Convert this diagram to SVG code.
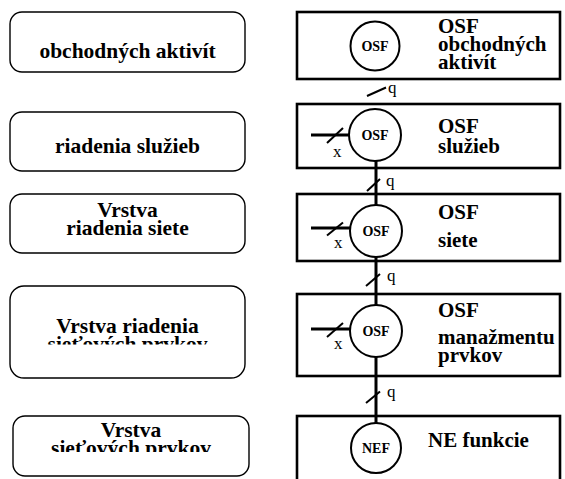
<svg xmlns="http://www.w3.org/2000/svg" width="565" height="479" viewBox="0 0 565 479">
<style>
.lb{fill:#fff;stroke:#000;stroke-width:1.4}
.rb{fill:#fff;stroke:#000;stroke-width:2.6}
.c{fill:#fff;stroke:#000;stroke-width:2}
.t{font-family:'Liberation Serif','Times New Roman','DejaVu Serif',serif;font-weight:700;font-size:21.5px;fill:#000}
.r{font-size:21px}
.ct{font-family:'Liberation Serif','Times New Roman','DejaVu Serif',serif;font-weight:700;font-size:14px;fill:#000;text-anchor:middle}
.s{font-family:'Liberation Serif','Times New Roman','DejaVu Serif',serif;font-size:17px;fill:#000}
.m{text-anchor:middle}
.ln{stroke:#000;stroke-width:3;fill:none}
.sl{stroke:#000;stroke-width:2;fill:none}
</style>
<defs>
<clipPath id="cp4"><rect x="0" y="280" width="250" height="64.5"/></clipPath>
<clipPath id="cp5"><rect x="0" y="410" width="255" height="42"/></clipPath>
</defs>
<g id="layer1">
<rect class="lb" x="10" y="12" width="235" height="60" rx="12"/>
<text class="t m" x="127.5" y="58">obchodných aktivít</text>
</g>
<g id="layer2">
<rect class="lb" x="10" y="112" width="235" height="59" rx="12"/>
<text class="t m" x="127.5" y="153">riadenia služieb</text>
</g>
<g id="layer3">
<rect class="lb" x="10" y="194" width="235" height="59" rx="12"/>
<text class="t m" x="127.5" y="217">Vrstva</text>
<text class="t m" x="127.5" y="235">riadenia siete</text>
</g>
<g id="layer4">
<rect class="lb" x="10" y="286" width="235" height="92" rx="14"/>
<text class="t m" x="127.5" y="333">Vrstva riadenia</text>
<text class="t m" x="127.5" y="351" clip-path="url(#cp4)">sieťových prvkov</text>
</g>
<g id="layer5">
<rect class="lb" x="13" y="416" width="236" height="60" rx="12"/>
<text class="t m" x="131" y="437">Vrstva</text>
<text class="t m" x="131" y="455" clip-path="url(#cp5)">sieťových prvkov</text>
</g>
<g id="osf1">
<rect class="rb" x="297" y="12" width="263" height="67"/>
<circle class="c" cx="375" cy="46" r="24.5"/>
<text class="ct" x="375" y="51">OSF</text>
<text class="t r" x="438" y="33">OSF</text>
<text class="t r" x="438" y="51">obchodných</text>
<text class="t r" x="438" y="69">aktivít</text>
</g>
<g id="osf2">
<rect class="rb" x="297" y="104" width="263" height="64"/>
<circle class="c" cx="375" cy="135" r="26"/>
<text class="ct" x="375" y="140">OSF</text>
<text class="t r" x="438" y="133">OSF</text>
<text class="t r" x="438" y="153">služieb</text>
</g>
<g id="osf3">
<rect class="rb" x="297" y="194" width="263" height="67"/>
<circle class="c" cx="376" cy="231" r="26"/>
<text class="ct" x="376" y="236">OSF</text>
<text class="t r" x="438" y="219">OSF</text>
<text class="t r" x="438" y="247">siete</text>
</g>
<g id="osf4">
<rect class="rb" x="297" y="294" width="263" height="82"/>
<circle class="c" cx="376" cy="331" r="26"/>
<text class="ct" x="376" y="336">OSF</text>
<text class="t r" x="438" y="317">OSF</text>
<text class="t r" x="438" y="344">manažmentu</text>
<text class="t r" x="438" y="362">prvkov</text>
</g>
<g id="nef">
<rect class="rb" x="297" y="416" width="263" height="75"/>
<circle class="c" cx="376" cy="448" r="25"/>
<text class="ct" x="376" y="453">NEF</text>
<text class="t r" x="428" y="447">NE funkcie</text>
</g>
<g id="connectors">
<line class="sl" x1="367" y1="96" x2="386" y2="87.5"/>
<text class="s" x="388" y="93">q</text>
<line class="ln" x1="311" y1="135" x2="349" y2="135"/>
<line class="sl" x1="327" y1="143" x2="343" y2="128"/>
<text class="s" x="333" y="157">x</text>
<line class="ln" x1="376" y1="161" x2="376" y2="205"/>
<line class="sl" x1="367" y1="191" x2="380" y2="179"/>
<text class="s" x="386" y="186">q</text>
<line class="ln" x1="311" y1="228" x2="350" y2="228"/>
<line class="sl" x1="327" y1="235.5" x2="343" y2="222.5"/>
<text class="s" x="334" y="248">x</text>
<line class="ln" x1="376" y1="257" x2="376" y2="305"/>
<line class="sl" x1="366" y1="286" x2="380" y2="274"/>
<text class="s" x="387" y="281">q</text>
<line class="ln" x1="311" y1="329" x2="350" y2="329"/>
<line class="sl" x1="327" y1="337" x2="343" y2="323"/>
<text class="s" x="334" y="349">x</text>
<line class="ln" x1="376" y1="357" x2="376" y2="423"/>
<line class="sl" x1="366" y1="403" x2="380" y2="391.5"/>
<text class="s" x="387" y="397">q</text>
</g>
</svg>
